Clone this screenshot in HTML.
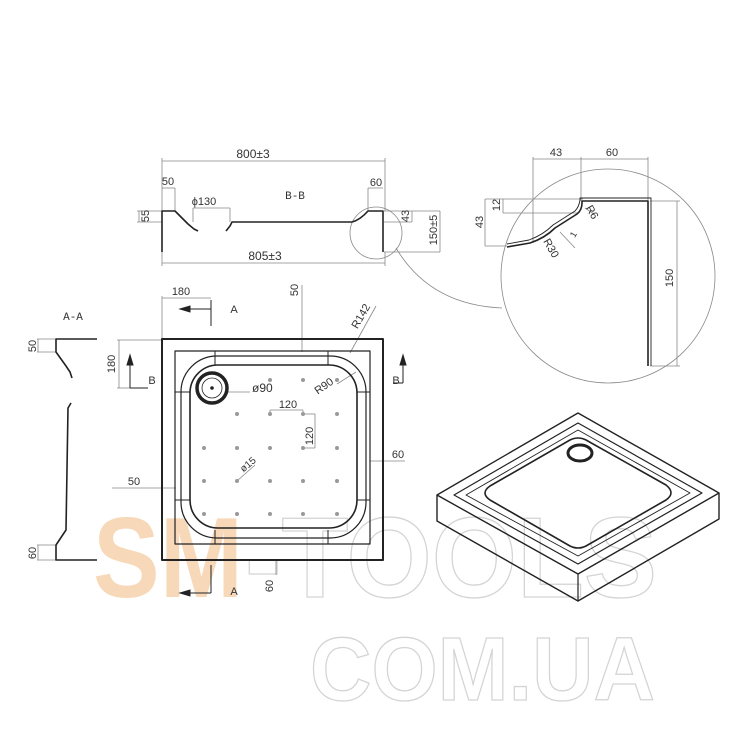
<!DOCTYPE html>
<html><head><meta charset="utf-8"><style>
html,body{margin:0;padding:0;background:#fff}
svg{display:block}
text{font-family:"Liberation Sans Narrow","Liberation Sans",sans-serif;fill:#333;font-size:11px}
</style></head><body>
<svg width="750" height="750" viewBox="0 0 750 750" xmlns="http://www.w3.org/2000/svg">
<!-- watermark -->
<text x="93" y="597" style="font-family:'Liberation Sans',sans-serif;font-size:114px;font-weight:bold;fill:#f7d9ba" textLength="150" lengthAdjust="spacingAndGlyphs">SM</text>
<text x="245" y="597" style="font-family:'Liberation Sans',sans-serif;font-size:114px;font-weight:bold;fill:none;stroke:#d4d4d4;stroke-width:1.3" textLength="412" lengthAdjust="spacingAndGlyphs">-TOOLS</text>
<text x="310" y="700" style="font-family:'Liberation Sans',sans-serif;font-size:90px;font-weight:bold;fill:none;stroke:#d4d4d4;stroke-width:1.3" textLength="345" lengthAdjust="spacingAndGlyphs">COM.UA</text>

<g fill="none" stroke="#888" stroke-width="0.8">
<line x1="162" y1="161" x2="385" y2="161"/><line x1="162" y1="158" x2="162" y2="211"/><line x1="385" y1="158" x2="385" y2="211"/>
<line x1="162" y1="263" x2="385" y2="263"/><line x1="162" y1="252" x2="162" y2="266"/><line x1="385" y1="252" x2="385" y2="266"/>
<line x1="162" y1="188" x2="175" y2="188"/><line x1="175" y1="188" x2="175" y2="211"/>
<line x1="368" y1="188" x2="383" y2="188"/><line x1="368" y1="188" x2="368" y2="211"/>
<line x1="193" y1="208" x2="230" y2="208"/><line x1="193" y1="208" x2="193" y2="222"/><line x1="230" y1="208" x2="230" y2="222"/>
<line x1="137" y1="211" x2="162" y2="211"/><line x1="137" y1="222" x2="162" y2="222"/><line x1="139" y1="211" x2="139" y2="222"/>
<line x1="384" y1="211" x2="440" y2="211"/><line x1="384" y1="222" x2="412" y2="222"/><line x1="412" y1="211" x2="412" y2="222"/>
<line x1="384" y1="252" x2="440" y2="252"/><line x1="440" y1="211" x2="440" y2="252"/>
<circle cx="376" cy="233" r="26"/>
<path d="M396 248 Q430 305 502 308"/>
<circle cx="608" cy="276" r="107"/>
<line x1="533" y1="159" x2="648" y2="159"/>
<line x1="533" y1="157" x2="533" y2="243"/><line x1="581" y1="157" x2="581" y2="201"/><line x1="648" y1="157" x2="648" y2="201"/>
<line x1="485" y1="199" x2="583" y2="199"/><line x1="503" y1="213" x2="578" y2="213"/><line x1="485" y1="246" x2="507" y2="246"/>
<line x1="485" y1="199" x2="485" y2="246"/><line x1="503" y1="199" x2="503" y2="213"/>
<line x1="650" y1="201" x2="680" y2="201"/><line x1="650" y1="366" x2="680" y2="366"/><line x1="677" y1="201" x2="677" y2="366"/>
<line x1="560" y1="232" x2="575" y2="248"/><line x1="585" y1="208" x2="594" y2="214"/>
<line x1="162" y1="298" x2="211" y2="298"/><line x1="162" y1="296" x2="162" y2="340"/>
<line x1="302" y1="285" x2="302" y2="352"/>
<line x1="350" y1="353" x2="376" y2="306"/>
<line x1="117" y1="340" x2="162" y2="340"/><line x1="117" y1="388" x2="130" y2="388"/><line x1="119" y1="340" x2="119" y2="388"/>
<line x1="112" y1="488" x2="176" y2="488"/>
<line x1="370" y1="461" x2="405" y2="461"/>
<line x1="276" y1="560" x2="276" y2="575"/>
<line x1="228" y1="392" x2="250" y2="392"/>
<line x1="337" y1="384" x2="356" y2="372"/>
<line x1="270" y1="413" x2="270" y2="410"/><line x1="270" y1="410" x2="303" y2="410"/><line x1="303" y1="410" x2="303" y2="414"/>
<line x1="303" y1="414" x2="315" y2="414"/><line x1="315" y1="414" x2="315" y2="448"/><line x1="303" y1="448" x2="315" y2="448"/>
<line x1="237" y1="481" x2="255" y2="465"/>
<line x1="37" y1="339" x2="56" y2="339"/><line x1="37" y1="352" x2="56" y2="352"/><line x1="38" y1="339" x2="38" y2="352"/>
<line x1="37" y1="545" x2="56" y2="545"/><line x1="37" y1="560" x2="56" y2="560"/><line x1="38" y1="545" x2="38" y2="560"/>
</g>

<g fill="none" stroke="#222" stroke-width="1.6" stroke-linejoin="round">
<path d="M162 252 L162 211 L175 211 L188 224 L194 229 L198 231"/>
<path d="M226 231 L230 226 L232 222 L352 222 Q360 220 368 211 L383 211 L383 252"/>
<path d="M507 247 L530 243 Q545 238 555 228 L577 214 Q582 210 582 203 L582 201 L648 201 L648 366"/>
<path d="M507 244 L529 240 Q543 235 553 225 L575 211 Q579 207 580 200 L580 198 L651 198 L651 366" stroke-width="0.9"/>
<path d="M97 339 L56 339 L56 352 L66 366 L70 372 L72 378"/>
<path d="M71 403 L68 408 L66 530 L56 545 L56 560 L97 560"/>
<rect x="162" y="339" width="221" height="221" stroke-width="2"/>
<rect x="175" y="351" width="195" height="193" stroke-width="1.2"/>
<rect x="181" y="356" width="185" height="182" rx="36" stroke-width="1.2"/>
<rect x="190" y="365" width="167" height="163" rx="28" stroke-width="1.6"/>
<line x1="215" y1="351" x2="215" y2="365" stroke-width="1"/><line x1="328" y1="351" x2="328" y2="365" stroke-width="1"/>
<line x1="215" y1="530" x2="215" y2="544" stroke-width="1"/><line x1="328" y1="530" x2="328" y2="544" stroke-width="1"/>
<line x1="175" y1="392" x2="190" y2="392" stroke-width="1"/><line x1="175" y1="500" x2="190" y2="500" stroke-width="1"/>
<line x1="357" y1="392" x2="370" y2="392" stroke-width="1"/><line x1="357" y1="500" x2="370" y2="500" stroke-width="1"/>
<circle cx="212" cy="388" r="15" stroke-width="3.5"/>
<circle cx="212" cy="388" r="10" stroke-width="0.8"/>
<path d="M578 413 L719 493 L578 574 L437 495 Z" stroke-width="1.4"/>
<path d="M437 495 L437 521 L578 601 L719 519 L719 493" stroke-width="1.4"/>
<line x1="578" y1="574" x2="578" y2="601" stroke-width="1.2"/>
<path d="M578 423 L702 493 L578 564 L454 495 Z" stroke-width="1.2"/>
<path d="M578 430 L690 493 L578 556 L466 495 Z" stroke-width="0.9"/>
<path d="M570 440 Q578 436 586 440 L666 485 Q676 493 666 500 L586 546 Q578 550 570 546 L490 500 Q480 493 490 486 Z" stroke-width="1.6"/>
<ellipse cx="580" cy="453" rx="12" ry="8" stroke-width="3"/>
</g>
<g fill="#222" stroke="#222" stroke-width="1">
<line x1="211" y1="300" x2="211" y2="326" fill="none"/><line x1="211" y1="309" x2="188" y2="309" fill="none"/><path d="M180 309 L190 306 L190 312 Z"/>
<line x1="211" y1="565" x2="211" y2="593" fill="none"/><line x1="211" y1="593" x2="188" y2="593" fill="none"/><path d="M180 593 L190 590 L190 596 Z"/>
<line x1="403" y1="383" x2="403" y2="363" fill="none"/><line x1="393" y1="383" x2="403" y2="383" fill="none"/><path d="M403 355 L400 365 L406 365 Z"/>
<line x1="130" y1="388" x2="130" y2="363" fill="none"/><line x1="130" y1="388" x2="148" y2="388" fill="none"/><path d="M130 355 L127 365 L133 365 Z"/>
</g>
<g fill="#999">
<circle cx="270" cy="380" r="2"/><circle cx="303" cy="380" r="2"/><circle cx="337" cy="380" r="2"/>
<circle cx="237" cy="414" r="2"/><circle cx="270" cy="414" r="2"/><circle cx="303" cy="414" r="2"/><circle cx="337" cy="414" r="2"/>
<circle cx="204" cy="448" r="2"/><circle cx="237" cy="448" r="2"/><circle cx="270" cy="448" r="2"/><circle cx="303" cy="448" r="2"/><circle cx="337" cy="448" r="2"/>
<circle cx="204" cy="481" r="2"/><circle cx="237" cy="481" r="2"/><circle cx="270" cy="481" r="2"/><circle cx="303" cy="481" r="2"/><circle cx="337" cy="481" r="2"/>
<circle cx="204" cy="514" r="2"/><circle cx="237" cy="514" r="2"/><circle cx="270" cy="514" r="2"/><circle cx="303" cy="514" r="2"/><circle cx="337" cy="514" r="2"/>
</g>
<circle cx="212" cy="388" r="1.8" fill="#222"/>

<text x="253" y="158" text-anchor="middle" style="font-size:12px">800±3</text>
<text x="265" y="260" text-anchor="middle" style="font-size:12px">805±3</text>
<text x="168" y="185" text-anchor="middle">50</text>
<text x="376" y="186" text-anchor="middle">60</text>
<text x="204" y="205" text-anchor="middle">ϕ130</text>
<text x="295" y="199" text-anchor="middle" style="font-family:'Liberation Mono',monospace">B-B</text>
<text transform="translate(149,216) rotate(-90)" text-anchor="middle">55</text>
<text transform="translate(409,216) rotate(-90)" text-anchor="middle">43</text>
<text transform="translate(437,230) rotate(-90)" text-anchor="middle">150±5</text>
<text x="556" y="156" text-anchor="middle">43</text>
<text x="612" y="156" text-anchor="middle">60</text>
<text transform="translate(500,205) rotate(-90)" text-anchor="middle">12</text>
<text transform="translate(483,222) rotate(-90)" text-anchor="middle">43</text>
<text transform="translate(589,214) rotate(60)" text-anchor="middle">R6</text>
<text transform="translate(548,250) rotate(60)" text-anchor="middle">R30</text>
<text transform="translate(576,236) rotate(-60)" text-anchor="middle" style="font-size:9px">1</text>
<text transform="translate(673,278) rotate(-90)" text-anchor="middle">150</text>
<text x="73" y="320" text-anchor="middle" style="font-family:'Liberation Mono',monospace">A-A</text>
<text transform="translate(36,346) rotate(-90)" text-anchor="middle">50</text>
<text transform="translate(36,553) rotate(-90)" text-anchor="middle">60</text>
<text x="181" y="295" text-anchor="middle">180</text>
<text x="234" y="313" text-anchor="middle">A</text>
<text x="234" y="595" text-anchor="middle">A</text>
<text transform="translate(298,290) rotate(-90)" text-anchor="middle">50</text>
<text transform="translate(364,318) rotate(-60)" text-anchor="middle">R142</text>
<text x="396" y="384" text-anchor="middle">B</text>
<text x="152" y="384" text-anchor="middle">B</text>
<text transform="translate(115,364) rotate(-90)" text-anchor="middle">180</text>
<text x="134" y="485" text-anchor="middle">50</text>
<text x="398" y="458" text-anchor="middle">60</text>
<text transform="translate(273,586) rotate(-90)" text-anchor="middle">60</text>
<text x="252" y="392" style="font-size:12px">ø90</text>
<text transform="translate(326,389) rotate(-35)" text-anchor="middle">R90</text>
<text x="288" y="408" text-anchor="middle">120</text>
<text transform="translate(313,436) rotate(-90)" text-anchor="middle">120</text>
<text transform="translate(250,467) rotate(-40)" text-anchor="middle" style="font-size:10px">ø15</text>
</svg>
</body></html>
